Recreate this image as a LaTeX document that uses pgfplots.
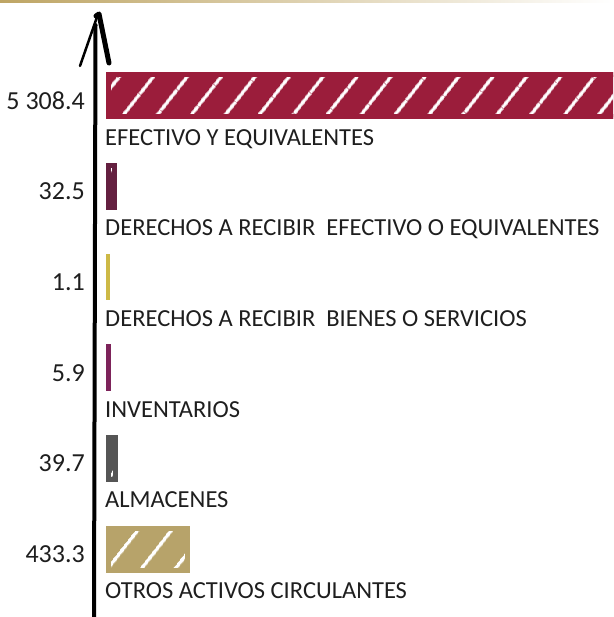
\documentclass[border=0pt]{standalone}
\usepackage{pgfplots}
\pgfplotsset{compat=1.18}
\usepackage{fontspec}
\setmainfont{Carlito}
\usetikzlibrary{patterns.meta}
\definecolor{c1}{RGB}{155,29,59}
\definecolor{c2}{RGB}{100,32,64}
\definecolor{c3}{RGB}{205,185,70}
\definecolor{c4}{RGB}{125,35,90}
\definecolor{c5}{RGB}{85,85,85}
\definecolor{c6}{RGB}{183,163,106}
\definecolor{topgold}{RGB}{190,165,100}
\definecolor{txt}{RGB}{30,30,30}
\tikzset{hatch/.style={postaction={pattern={Lines[angle=52,distance=27pt,line width=3.5pt]},pattern color=white}}}
\begin{document}
\begin{tikzpicture}[x=1pt,y=1pt]
\shade[left color=topgold, middle color=topgold, right color=white] (0,614.5) rectangle (613,617);
\begin{axis}[
  at={(93pt,0pt)}, anchor=south west,
  scale only axis, width=520pt, height=602pt,
  xmin=-82, xmax=2752, ymin=-0.75, ymax=5.89,
  xbar, bar shift=0pt, bar width=42pt,
  hide x axis, axis y line*=left, y axis line style={draw=none},
  ytick={0,1,2,3,4,5},
  yticklabels={433.3,39.7,5.9,1.1,32.5,5 308.4},
  major tick length=0pt,
  yticklabel style={anchor=east, inner sep=0pt, xshift=-8pt, yshift=-5pt, font=\fontsize{26}{30}\selectfont, text=txt},
  /pgf/number format/assume math mode=true,
]
\addplot[fill=c1, draw=c1, line width=5pt, hatch] coordinates {(5308.4,5)};
\addplot[fill=c2, draw=c2, line width=5pt, hatch] coordinates {(32.5,4)};
\addplot[fill=c3, draw=c3, line width=4pt, hatch] coordinates {(1.1,3)};
\addplot[fill=c4, draw=c4, line width=4.5pt, hatch] coordinates {(5.9,2)};
\addplot[fill=c5, draw=c5, line width=5pt, hatch] coordinates {(39.7,1)};
\addplot[fill=c6, draw=c6, line width=5pt, hatch] coordinates {(433.3,0)};
\tikzset{lab/.style={anchor=north west, inner sep=0pt, xshift=-3pt, yshift=-33.5pt, font=\fontsize{24.5}{28}\selectfont, text=txt}}
\node[lab] at (axis cs:0,5) {EFECTIVO Y EQUIVALENTES};
\node[lab] at (axis cs:0,4) {DERECHOS A RECIBIR\ \ EFECTIVO O EQUIVALENTES};
\node[lab] at (axis cs:0,3) {DERECHOS A RECIBIR\ \ BIENES O SERVICIOS};
\node[lab] at (axis cs:0,2) {INVENTARIOS};
\node[lab] at (axis cs:0,1) {ALMACENES};
\node[lab] at (axis cs:0,0) {OTROS ACTIVOS CIRCULANTES};
\end{axis}
\draw[line width=4pt, line cap=round] (94,-2) -- (95.5,592);
\draw[line width=2.5pt, line cap=round, line join=round] (80,551) -- (97,600);
\draw[line width=5pt, line cap=round, line join=round] (96,601) -- (99,603) -- (109,554);
\pgfresetboundingbox
\path (0,0) rectangle (613,617);
\end{tikzpicture}
\end{document}
